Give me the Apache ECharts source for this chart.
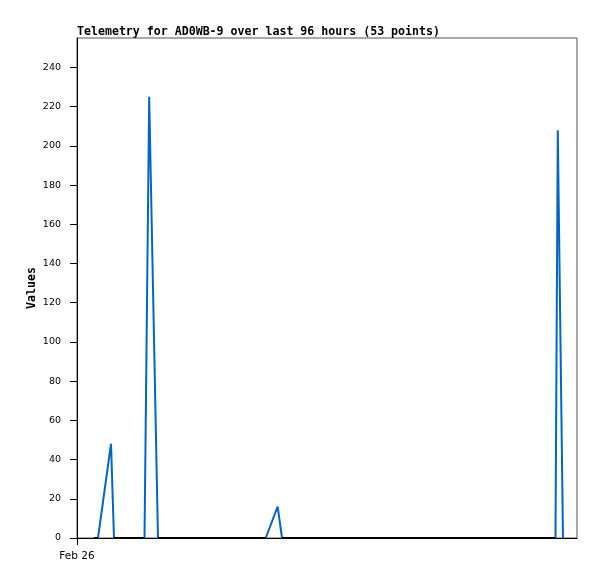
<!DOCTYPE html>
<html>
<head>
<meta charset="utf-8">
<style>
  html, body { margin: 0; padding: 0; background: #fff; }
  #chart { width: 597px; height: 579px; }
</style>
<script src="https://cdn.jsdelivr.net/npm/echarts@6/dist/echarts.min.js"></script>
</head>
<body>
<div id="chart"></div>
<script>
// Hours since Feb 26 00:00 (96-hour window) and telemetry values
var hours = [3.26, 4.03, 6.53, 7.10, 8.0, 9.0, 10.0, 11.0, 12.0, 12.96, 13.86, 15.55,
  17.5, 19.5, 21.5, 23.5, 25.5, 27.5, 29.5, 31.5, 33.5, 35.0, 36.23, 38.53, 39.36,
  41, 43, 45, 47, 49, 51, 53, 55, 57, 59, 61, 63, 65, 67, 69, 71, 73, 75, 77, 79,
  81, 83, 85, 87, 89, 91.87, 92.31, 93.31];
var values = [0, 0, 48, 0, 0, 0, 0, 0, 0, 0, 225, 0,
  0, 0, 0, 0, 0, 0, 0, 0, 0, 0, 0, 16, 0,
  0, 0, 0, 0, 0, 0, 0, 0, 0, 0, 0, 0, 0, 0, 0, 0, 0, 0, 0, 0,
  0, 0, 0, 0, 0, 0, 208, 0];
var yTicks = [0, 20, 40, 60, 80, 100, 120, 140, 160, 180, 200, 220, 240];
var xTicks = [0];
var xTickLabels = ['Feb 26'];
var titleText = 'Telemetry for AD0WB-9 over last 96 hours (53 points)';

var data = hours.map(function (h, i) { return [h, values[i]]; });
// zero-valued stretches are drawn black on top of the blue line
var zeroData = hours.map(function (h, i) { return [h, values[i] === 0 ? 0 : null]; });

var chart = echarts.init(document.getElementById('chart'), null, { renderer: 'canvas' });
chart.setOption({
  animation: false,
  backgroundColor: '#fff',
  title: {
    text: titleText,
    left: 77,
    top: 26,
    padding: 0,
    textStyle: {
      fontFamily: 'DejaVu Sans Mono',
      fontWeight: 'bold',
      fontSize: 11.6,
      color: '#000'
    }
  },
  grid: {
    left: 77, right: 20, top: 38, bottom: 41,
    show: true,
    borderColor: '#555',
    borderWidth: 1,
    backgroundColor: 'transparent'
  },
  xAxis: {
    type: 'value',
    min: 0,
    max: 96,
    axisLine: { show: true, lineStyle: { color: '#000', width: 1 } },
    axisTick: { show: true, length: 7, customValues: xTicks, lineStyle: { color: '#000' } },
    axisLabel: {
      customValues: xTicks,
      margin: 13,
      fontFamily: 'DejaVu Sans',
      fontSize: 10.5,
      color: '#000',
      formatter: function (v) {
        var i = xTicks.indexOf(v);
        return i >= 0 ? xTickLabels[i] : '';
      }
    },
    splitLine: { show: false }
  },
  yAxis: {
    type: 'value',
    min: 0,
    max: 255,
    name: 'Values',
    nameLocation: 'middle',
    nameGap: 39,
    nameMoveOverlap: false,
    nameTextStyle: {
      fontFamily: 'DejaVu Sans Mono',
      fontWeight: 'bold',
      fontSize: 11.6,
      color: '#000'
    },
    axisLine: { show: true, lineStyle: { color: '#000', width: 1 } },
    axisTick: { show: true, length: 7, customValues: yTicks, lineStyle: { color: '#000' } },
    axisLabel: {
      customValues: yTicks,
      margin: 16,
      fontFamily: 'DejaVu Sans',
      fontSize: 9.5,
      color: '#000'
    },
    splitLine: { show: false }
  },
  series: [{
    type: 'line',
    data: data,
    showSymbol: false,
    symbol: 'none',
    lineStyle: { width: 2, color: '#0066cc' },
    itemStyle: { color: '#0066cc' },
    z: 3
  }, {
    type: 'line',
    data: zeroData,
    connectNulls: false,
    showSymbol: false,
    symbol: 'none',
    lineStyle: { width: 2, color: '#000' },
    itemStyle: { color: '#000' },
    z: 4
  }]
});
</script>
</body>
</html>
